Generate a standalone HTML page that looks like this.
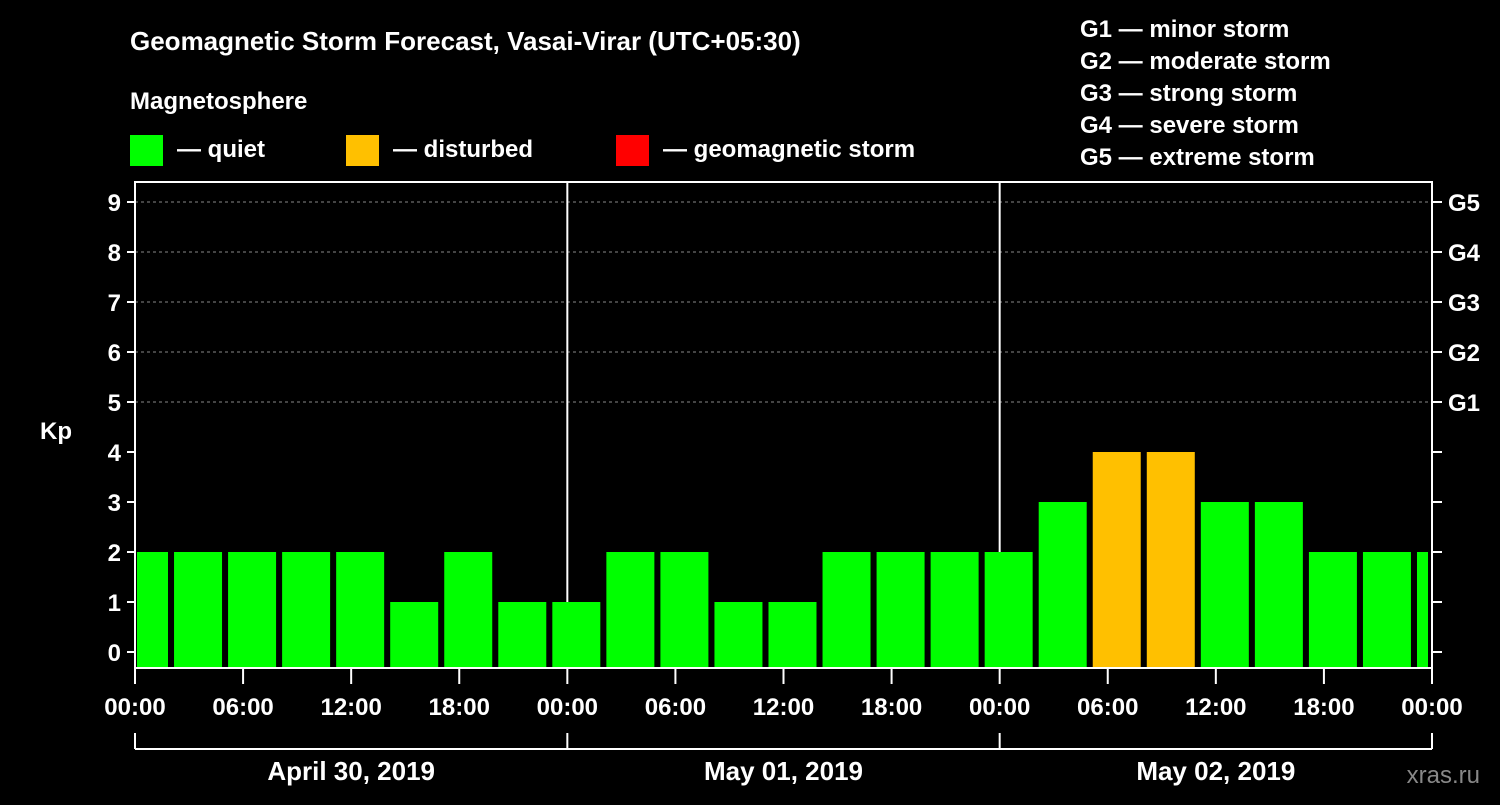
<!DOCTYPE html>
<html><head><meta charset="utf-8"><style>
body{margin:0;background:#000;width:1500px;height:800px;overflow:hidden}
svg text{font-family:"Liberation Sans",sans-serif;font-weight:bold;fill:#fff}
</style></head><body>
<svg width="1500" height="800">
<text x="130" y="50" font-size="26">Geomagnetic Storm Forecast, Vasai-Virar (UTC+05:30)</text>
<text x="130" y="109" font-size="24">Magnetosphere</text>
<rect x="130" y="135" width="33" height="31" fill="#00ff00"/>
<text x="177" y="157" font-size="24">— quiet</text>
<rect x="346" y="135" width="33" height="31" fill="#ffc000"/>
<text x="393" y="157" font-size="24">— disturbed</text>
<rect x="616" y="135" width="33" height="31" fill="#ff0000"/>
<text x="663" y="157" font-size="24">— geomagnetic storm</text>
<g font-size="24">
<text x="1080" y="37">G1 — minor storm</text>
<text x="1080" y="69">G2 — moderate storm</text>
<text x="1080" y="101">G3 — strong storm</text>
<text x="1080" y="133">G4 — severe storm</text>
<text x="1080" y="165">G5 — extreme storm</text>
</g>
<text x="40" y="439" font-size="24">Kp</text>
<text x="1480" y="783" font-size="24" fill="#888" style="fill:#888;font-weight:normal" text-anchor="end">xras.ru</text>
<g id="plot"></g>
</svg>
<script>
const kpValues=[2,2,2,2,2,1,2,1,1,2,2,1,1,2,2,2,2,3,4,4,3,3,2,2,2];
const yTicks=[0,1,2,3,4,5,6,7,8,9];
const gLabels=["G1","G2","G3","G4","G5"];
const xTickLabels=["00:00","06:00","12:00","18:00","00:00","06:00","12:00","18:00","00:00","06:00","12:00","18:00","00:00"];
const dayLabels=["April 30, 2019","May 01, 2019","May 02, 2019"];
const L=135,R=1432,T=182,B=668;
const x=h=>L+h*(R-L)/72;
const y=v=>652-v*50;
const NS="http://www.w3.org/2000/svg";
const g=document.getElementById('plot');
function mk(t,a){const e=document.createElementNS(NS,t);for(const k in a)e.setAttribute(k,a[k]);g.appendChild(e);return e;}
// grid
for(let v=5;v<=9;v++){const e=mk('line',{x1:L,x2:R,y1:y(v),y2:y(v),stroke:'#888','stroke-dasharray':'3,3','stroke-width':1});

}
// day dividers
[24,48].forEach(h=>{const e=mk('line',{x1:x(h),x2:x(h),y1:T,y2:B,stroke:'#fff','stroke-width':2});

});
// bars
kpValues.forEach((v,i)=>{const s=-0.5+3*i;let x0=x(s)-6,x1=x(s)+42;x0=Math.max(x0,L+2);x1=Math.min(x1,R-4);
const c=v>=5?'#ff0000':(v>=4?'#ffc000':'#00ff00');
const e=mk('rect',{x:x0,y:y(v),width:x1-x0,height:B-y(v),fill:c});

});
// frame
const f=mk('rect',{x:L,y:T,width:R-L,height:B-T,fill:'none',stroke:'#fff','stroke-width':2});


// y ticks
yTicks.forEach(v=>{mk('line',{x1:L-8,x2:L,y1:y(v),y2:y(v),stroke:'#fff','stroke-width':2});
mk('line',{x1:R,x2:R+10,y1:y(v),y2:y(v),stroke:'#fff','stroke-width':2});
const t=mk('text',{x:L-14,y:y(v)+9,'font-size':24,'text-anchor':'end'});t.textContent=v;

});
gLabels.forEach((s,i)=>{const t=mk('text',{x:1448,y:y(5+i)+9,'font-size':24});t.textContent=s;

});
// x ticks
xTickLabels.forEach((s,i)=>{const xx=x(i*6);mk('line',{x1:xx,x2:xx,y1:B,y2:B+16,stroke:'#fff','stroke-width':2});
const t=mk('text',{x:xx,y:715,'font-size':24,'text-anchor':'middle'});t.textContent=s;

});
// day bracket
mk('line',{x1:L,x2:R,y1:749,y2:749,stroke:'#fff','stroke-width':2});
[0,24,48,72].forEach(h=>mk('line',{x1:x(h),x2:x(h),y1:733,y2:749,stroke:'#fff','stroke-width':2}));
dayLabels.forEach((s,i)=>{const t=mk('text',{x:x(i*24+12),y:780,'font-size':26,'text-anchor':'middle'});t.textContent=s;

});
</script>
</body></html>
